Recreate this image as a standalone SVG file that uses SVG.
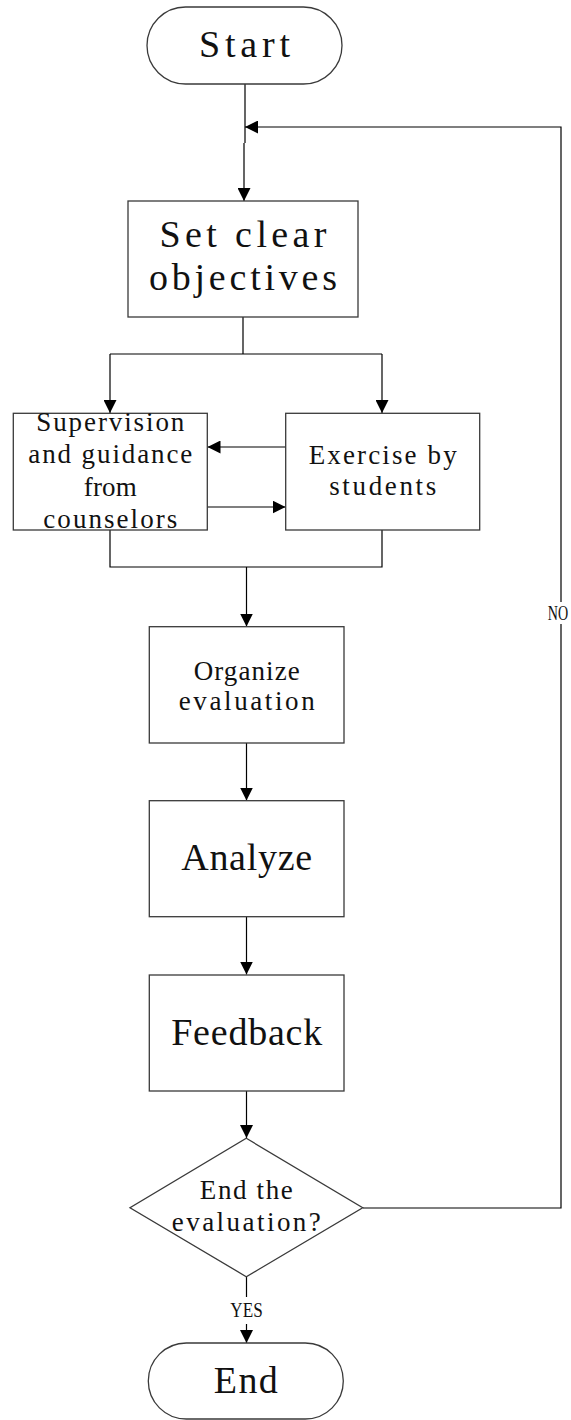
<svg xmlns="http://www.w3.org/2000/svg" width="571" height="1420" viewBox="0 0 571 1420">
<style>
.box{fill:#fff;stroke:#3a3a3a;stroke-width:1.3}
.ln{fill:none;stroke:#000;stroke-width:1.2}
.big{font-family:"Liberation Serif",serif;font-size:38px;fill:#111;text-anchor:middle}
.sm{font-family:"Liberation Serif",serif;font-size:27px;fill:#111;text-anchor:middle}
.lbl{font-family:"Liberation Serif",serif;font-size:22px;fill:#111;text-anchor:middle}
</style>
<defs>
<marker id="ah" markerUnits="userSpaceOnUse" markerWidth="13" markerHeight="13" viewBox="0 0 13 13" refX="13" refY="6.5" orient="auto"><path d="M0,0 L13,6.5 L0,13 z" fill="#000"/></marker>
</defs>
<rect width="571" height="1420" fill="#fff"/>
<g id="connectors">
<path class="ln" d="M245,84 V143 M244,143 V201" marker-end="url(#ah)"/>
<path class="ln" d="M363,1208 H561 V624 M561,602 V127 H245" marker-end="url(#ah)"/>
<path class="ln" d="M243,317 V354 M110,354 H382"/>
<path class="ln" d="M110,354 V413" marker-end="url(#ah)"/>
<path class="ln" d="M382,354 V413" marker-end="url(#ah)"/>
<path class="ln" d="M286,447 H207.5" marker-end="url(#ah)"/>
<path class="ln" d="M207,507 H285.5" marker-end="url(#ah)"/>
<path class="ln" d="M110,530 V567 H382 V530"/>
<path class="ln" d="M246.5,567 V626.5" marker-end="url(#ah)"/>
<path class="ln" d="M246.5,743 V800.5" marker-end="url(#ah)"/>
<path class="ln" d="M246.5,917 V974.5" marker-end="url(#ah)"/>
<path class="ln" d="M246.5,1091 V1138" marker-end="url(#ah)"/>
<path class="ln" d="M246.5,1277 V1297 M246.5,1324 V1343" marker-end="url(#ah)"/>
<text class="lbl" transform="translate(246.5,1317) scale(0.78,1)" x="0" y="0">YES</text>
<text class="lbl" transform="translate(558,620) scale(0.64,1)" x="0" y="0">NO</text>
</g>
<g id="start">
<rect class="box" x="147" y="7" width="195" height="77" rx="38.5" ry="38.5"/>
<text class="big" x="244.5" y="57" textLength="91" lengthAdjust="spacing">Start</text>
</g>
<g id="objectives">
<rect class="box" x="128" y="201" width="230" height="116"/>
<text class="big" x="243" y="247" textLength="167" lengthAdjust="spacing">Set clear</text>
<text class="big" x="243" y="290" textLength="188" lengthAdjust="spacing">objectives</text>
</g>
<g id="supervision">
<rect class="box" x="13.3" y="413.3" width="194" height="116.7"/>
<text class="sm" x="110.3" y="430.7" textLength="148" lengthAdjust="spacing">Supervision</text>
<text class="sm" x="110.3" y="463.3" textLength="164" lengthAdjust="spacing">and guidance</text>
<text class="sm" x="110.3" y="496" textLength="53" lengthAdjust="spacing">from</text>
<text class="sm" x="110.3" y="528.3" textLength="134" lengthAdjust="spacing">counselors</text>
</g>
<g id="exercise">
<rect class="box" x="285.7" y="413.3" width="194" height="116.7"/>
<text class="sm" x="382.7" y="463.5" textLength="148" lengthAdjust="spacing">Exercise by</text>
<text class="sm" x="382.7" y="495" textLength="107" lengthAdjust="spacing">students</text>
</g>
<g id="organize">
<rect class="box" x="149.3" y="626.7" width="194.7" height="116.3"/>
<text class="sm" x="246.7" y="680" textLength="106" lengthAdjust="spacing">Organize</text>
<text class="sm" x="246.7" y="710" textLength="136" lengthAdjust="spacing">evaluation</text>
</g>
<g id="analyze">
<rect class="box" x="149.3" y="800.7" width="194.7" height="116"/>
<text class="big" x="246.7" y="870" textLength="131" lengthAdjust="spacing">Analyze</text>
</g>
<g id="feedback">
<rect class="box" x="149.3" y="975" width="194.7" height="116"/>
<text class="big" x="246.7" y="1045" textLength="151" lengthAdjust="spacing">Feedback</text>
</g>
<g id="decision">
<polygon class="box" points="246.3,1138.3 362.7,1207.7 246.3,1276.7 130,1207.7"/>
<text class="sm" x="246.3" y="1199" textLength="93" lengthAdjust="spacing">End the</text>
<text class="sm" x="246.3" y="1231" textLength="149" lengthAdjust="spacing">evaluation?</text>
</g>
<g id="end">
<rect class="box" x="148.3" y="1343" width="195" height="76" rx="38" ry="38"/>
<text class="big" x="245.8" y="1392.7" textLength="64" lengthAdjust="spacing">End</text>
</g>
</svg>
